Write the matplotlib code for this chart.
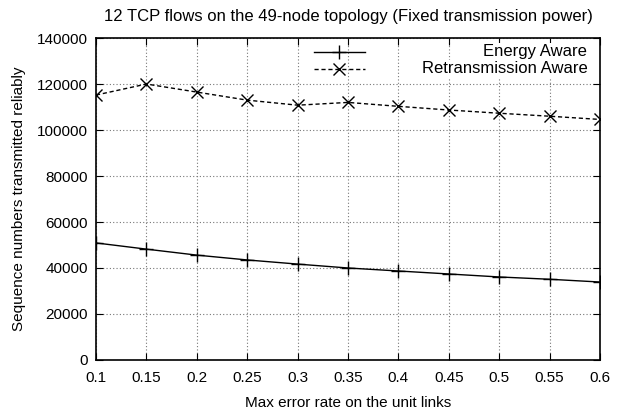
#!/usr/bin/env python
# sequence numbers vs max error rate, gnuplot look
import numpy as np
import matplotlib
matplotlib.use('Agg')
import matplotlib.pyplot as plt
from matplotlib.lines import Line2D

plt.rcParams['font.family'] = ['Liberation Sans', 'DejaVu Sans']

error_rate = [0.1, 0.15, 0.2, 0.25, 0.3, 0.35, 0.4, 0.45, 0.5, 0.55, 0.6]
energy_aware = [50900, 48200, 45600, 43500, 41700, 40000, 38700, 37400, 36100, 35100, 33900]
retrans_aware = [115200, 120000, 116500, 113000, 110800, 112000, 110300, 108700, 107300, 106000, 104600]
labels = ['Energy Aware', 'Retransmission Aware']

fs = 11
fig = plt.figure(figsize=(6.17, 4.18), dpi=100)
ax = fig.add_axes([0.1556, 0.1388, 0.8168, 0.7702])

ax.plot(error_rate, energy_aware, color='black', lw=1.0, marker='+', ms=10, mew=1.0)
ax.plot(error_rate, retrans_aware, color='black', lw=1.0, ls=(0, (3, 2)),
        marker='x', ms=9, mew=1.0)

ax.set_xlim(0.1, 0.6)
ax.set_ylim(0, 140000)
ax.set_xticks(error_rate)
ax.set_xticklabels(['0.1', '0.15', '0.2', '0.25', '0.3', '0.35', '0.4', '0.45', '0.5', '0.55', '0.6'])
ax.set_yticks(np.arange(0, 140001, 20000))
ax.tick_params(direction='in', top=True, right=True, length=5, labelsize=fs)
ax.tick_params(axis='x', pad=8)
ax.tick_params(axis='y', pad=6)
ax.grid(True, color='#777777', ls=(0, (1, 2)), lw=0.8)
for s in ax.spines.values():
    s.set_linewidth(1.2)

ax.set_xlabel('Max error rate on the unit links', fontsize=fs, labelpad=8)
ax.set_ylabel('Sequence numbers transmitted reliably', fontsize=fs, labelpad=8)
ax.set_title('12 TCP flows on the 49-node topology (Fixed transmission power)', fontsize=12, pad=12)

# gnuplot style key: sample on the left, text right-justified
for i, (lab, ls, mk, ms) in enumerate([(labels[0], '-', '+', 10), (labels[1], (0, (3, 2)), 'x', 9)]):
    y = 0.957 - i * 0.053
    ax.add_line(Line2D([0.432, 0.534], [y, y], transform=ax.transAxes, color='black', lw=1.0, ls=ls))
    ax.add_line(Line2D([0.483], [y], transform=ax.transAxes, color='black', marker=mk, ms=ms, mew=1.0))
    ax.text(0.975, y, lab, transform=ax.transAxes, ha='right', va='center', fontsize=12,
            bbox=dict(facecolor='white', edgecolor='none', pad=1))

plt.savefig('out.png', dpi=100)
